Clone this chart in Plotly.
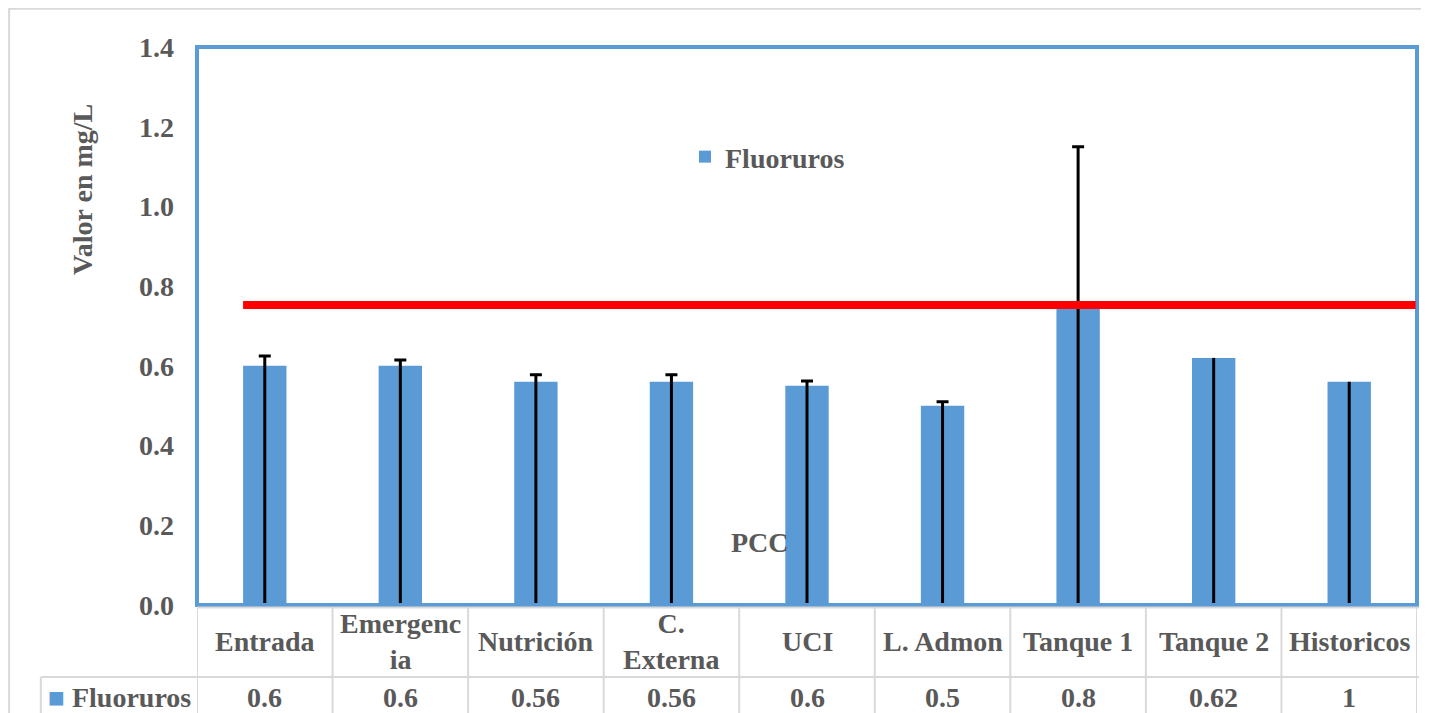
import plotly.graph_objects as go

categories = ["Entrada", "Emergencia", "Nutrición", "C. Externa", "UCI",
              "L. Admon", "Tanque 1", "Tanque 2", "Historicos"]
cat_labels = ["Entrada", "Emergenc<br>ia", "Nutrición", "C.<br>Externa", "UCI",
              "L. Admon", "Tanque 1", "Tanque 2", "Historicos"]
fluoruros = [0.6, 0.6, 0.56, 0.56, 0.55, 0.5, 0.75, 0.62, 0.56]
err_top = [0.625, 0.615, 0.578, 0.578, 0.562, 0.51, 1.15, 0.62, 0.56]
table_vals = ["0.6", "0.6", "0.56", "0.56", "0.6", "0.5", "0.8", "0.62", "1"]
pcc = 0.753

blue = "#5b9bd5"
grey_txt = "#595959"
grid = "#d9d9d9"
FONT = "Liberation Serif"
FS = 28

err_plus = [t - v for t, v in zip(err_top, fluoruros)]
# the last two bars have no visible error cap
n_cap = 7

fig = go.Figure()
fig.add_trace(go.Bar(
    x=categories[:n_cap], y=fluoruros[:n_cap], name="Fluoruros",
    marker=dict(color=blue, line=dict(width=0)),
    width=0.32,
    error_y=dict(type="data", symmetric=False, array=err_plus[:n_cap],
                 arrayminus=fluoruros[:n_cap], color="black", thickness=3, width=6),
))
fig.add_trace(go.Bar(
    x=categories[n_cap:], y=fluoruros[n_cap:], name="Fluoruros", showlegend=False,
    marker=dict(color=blue, line=dict(width=0)),
    width=0.32,
    error_y=dict(type="data", symmetric=False, array=err_plus[n_cap:],
                 arrayminus=fluoruros[n_cap:], color="black", thickness=3, width=0),
))

shapes = []
# plot area border
shapes.append(dict(type="rect", xref="paper", yref="paper", x0=0, x1=1, y0=0, y1=1,
                   line=dict(color=blue, width=4), layer="above"))
# outer chart border (cropped)
shapes.append(dict(type="rect", xref="paper", yref="paper", x0=-0.154, x1=1.1,
                   y0=-0.3, y1=1.0685, line=dict(color=grid, width=2), layer="below"))
# PCC line
shapes.append(dict(type="line", xref="x", yref="y", x0=-0.16, x1=8.49, y0=pcc, y1=pcc,
                   line=dict(color="red", width=8), layer="above"))
# data table grid
shapes.append(dict(type="line", xref="paper", yref="paper", x0=0, x1=1.0016,
                   y0=-0.0045, y1=-0.0045, line=dict(color=grid, width=2)))
shapes.append(dict(type="line", xref="paper", yref="paper", x0=-0.128, x1=1.0016,
                   y0=-0.129, y1=-0.129, line=dict(color=grid, width=2)))
shapes.append(dict(type="line", xref="paper", yref="paper", x0=-0.128, x1=-0.128,
                   y0=-0.129, y1=-0.3, line=dict(color=grid, width=2)))
for i in range(len(categories) + 1):
    shapes.append(dict(type="line", xref="x", yref="paper", x0=i - 0.5, x1=i - 0.5,
                       y0=-0.0045, y1=-0.3, line=dict(color=grid, width=2)))

annotations = []
for c, lab, v in zip(categories, cat_labels, table_vals):
    annotations.append(dict(x=c, xref="x", y=-0.066, yref="paper", text="<b>%s</b>" % lab,
                            showarrow=False, font=dict(family=FONT, size=FS, color=grey_txt),
                            yanchor="middle"))
    annotations.append(dict(x=c, xref="x", y=-0.165, yref="paper", text="<b>%s</b>" % v,
                            showarrow=False, font=dict(family=FONT, size=FS, color=grey_txt),
                            yanchor="middle"))
annotations.append(dict(x=-0.124, xref="paper", y=-0.165, yref="paper", xanchor="left",
                        text="<span style='color:%s'>■</span> <b>Fluoruros</b>" % blue,
                        showarrow=False, font=dict(family=FONT, size=FS, color=grey_txt),
                        yanchor="middle"))
annotations.append(dict(x=3.65, xref="x", y=0.158, yref="y", text="<b>PCC</b>",
                        showarrow=False, font=dict(family=FONT, size=FS, color=grey_txt)))
annotations.append(dict(x=-0.0934, xref="paper", y=0.744, yref="paper", text="<b>Valor en mg/L</b>",
                        textangle=-90, showarrow=False, xanchor="center", yanchor="middle",
                        font=dict(family=FONT, size=FS, color=grey_txt)))

# page body has an 8px margin, so the figure is 8px smaller and shifted
fig.update_layout(
    width=1421, height=705, autosize=False,
    margin=dict(l=189, r=12, t=39, b=108),
    paper_bgcolor="white", plot_bgcolor="white",
    font=dict(family=FONT, color=grey_txt),
    shapes=shapes, annotations=annotations,
    showlegend=True, barmode="overlay",
    legend=dict(x=0.4, y=0.803, xanchor="left", yanchor="middle", bgcolor="rgba(0,0,0,0)",
                font=dict(family=FONT, size=FS, color=grey_txt, weight="bold"),
                itemwidth=30),
)
fig.update_xaxes(type="category", categoryorder="array", categoryarray=categories,
                 range=[-0.5, 8.5], showticklabels=False, showgrid=False,
                 zeroline=False, showline=False)
fig.update_yaxes(range=[0, 1.4], dtick=0.2, tickformat=".1f", showgrid=False, zeroline=False,
                 showline=False, ticklabelstandoff=22,
                 tickfont=dict(family=FONT, size=FS, color=grey_txt, weight="bold"))

fig.write_html("out.html")
